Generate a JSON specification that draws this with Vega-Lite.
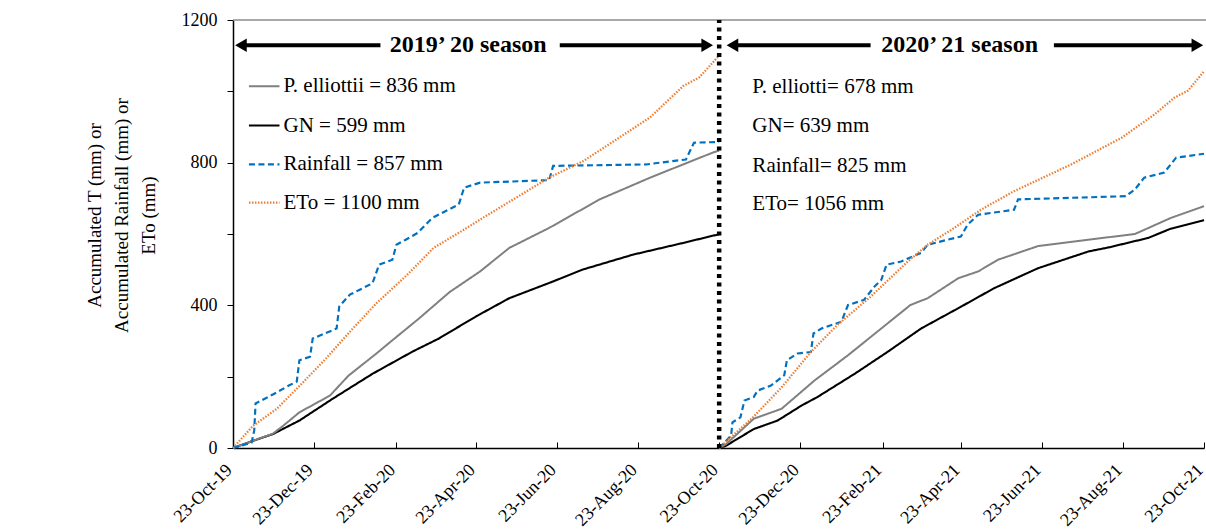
{
  "$schema": "https://vega.github.io/schema/vega-lite/v6.json",
  "width": 971,
  "height": 428,
  "autosize": {"type": "none"},
  "padding": {"left": 233, "top": 20, "right": 2, "bottom": 83},
  "background": "white",
  "config": {
    "view": {"stroke": null},
    "font": "Liberation Serif",
    "axis": {"labelFont": "Liberation Serif", "titleFont": "Liberation Serif", "labelColor": "black", "titleColor": "black", "domainColor": "black", "tickColor": "black", "grid": false}
  },
  "datasets": {
    "series": [
      {"s": "GN", "season": 1, "d": "2019-10-23", "v": 0},
      {"s": "GN", "season": 1, "d": "2019-11-07", "v": 20},
      {"s": "GN", "season": 1, "d": "2019-11-22", "v": 39},
      {"s": "GN", "season": 1, "d": "2019-12-12", "v": 77},
      {"s": "GN", "season": 1, "d": "2020-01-06", "v": 138},
      {"s": "GN", "season": 1, "d": "2020-02-05", "v": 208},
      {"s": "GN", "season": 1, "d": "2020-03-06", "v": 270},
      {"s": "GN", "season": 1, "d": "2020-03-26", "v": 307},
      {"s": "GN", "season": 1, "d": "2020-04-23", "v": 369},
      {"s": "GN", "season": 1, "d": "2020-05-18", "v": 420},
      {"s": "GN", "season": 1, "d": "2020-06-20", "v": 467},
      {"s": "GN", "season": 1, "d": "2020-07-12", "v": 500},
      {"s": "GN", "season": 1, "d": "2020-08-19", "v": 542},
      {"s": "GN", "season": 1, "d": "2020-09-26", "v": 575},
      {"s": "GN", "season": 1, "d": "2020-10-18", "v": 595},
      {"s": "GN", "season": 1, "d": "2020-10-23", "v": 599},

      {"s": "P. elliottii", "season": 1, "d": "2019-10-23", "v": 0},
      {"s": "P. elliottii", "season": 1, "d": "2019-11-07", "v": 20},
      {"s": "P. elliottii", "season": 1, "d": "2019-11-22", "v": 40},
      {"s": "P. elliottii", "season": 1, "d": "2019-11-30", "v": 63},
      {"s": "P. elliottii", "season": 1, "d": "2019-12-12", "v": 100},
      {"s": "P. elliottii", "season": 1, "d": "2020-01-04", "v": 147},
      {"s": "P. elliottii", "season": 1, "d": "2020-01-18", "v": 203},
      {"s": "P. elliottii", "season": 1, "d": "2020-02-08", "v": 265},
      {"s": "P. elliottii", "season": 1, "d": "2020-02-18", "v": 296},
      {"s": "P. elliottii", "season": 1, "d": "2020-03-11", "v": 363},
      {"s": "P. elliottii", "season": 1, "d": "2020-04-03", "v": 437},
      {"s": "P. elliottii", "season": 1, "d": "2020-04-26", "v": 495},
      {"s": "P. elliottii", "season": 1, "d": "2020-05-18", "v": 561},
      {"s": "P. elliottii", "season": 1, "d": "2020-06-17", "v": 617},
      {"s": "P. elliottii", "season": 1, "d": "2020-07-25", "v": 697},
      {"s": "P. elliottii", "season": 1, "d": "2020-09-01", "v": 758},
      {"s": "P. elliottii", "season": 1, "d": "2020-10-18", "v": 828},
      {"s": "P. elliottii", "season": 1, "d": "2020-10-23", "v": 834},

      {"s": "Rainfall", "season": 1, "d": "2019-10-23", "v": 0},
      {"s": "Rainfall", "season": 1, "d": "2019-11-06", "v": 15},
      {"s": "Rainfall", "season": 1, "d": "2019-11-08", "v": 50},
      {"s": "Rainfall", "season": 1, "d": "2019-11-09", "v": 125},
      {"s": "Rainfall", "season": 1, "d": "2019-11-22", "v": 150},
      {"s": "Rainfall", "season": 1, "d": "2019-12-04", "v": 175},
      {"s": "Rainfall", "season": 1, "d": "2019-12-10", "v": 186},
      {"s": "Rainfall", "season": 1, "d": "2019-12-12", "v": 246},
      {"s": "Rainfall", "season": 1, "d": "2019-12-20", "v": 256},
      {"s": "Rainfall", "season": 1, "d": "2019-12-22", "v": 307},
      {"s": "Rainfall", "season": 1, "d": "2020-01-09", "v": 335},
      {"s": "Rainfall", "season": 1, "d": "2020-01-11", "v": 397},
      {"s": "Rainfall", "season": 1, "d": "2020-01-19", "v": 430},
      {"s": "Rainfall", "season": 1, "d": "2020-01-26", "v": 443},
      {"s": "Rainfall", "season": 1, "d": "2020-02-05", "v": 462},
      {"s": "Rainfall", "season": 1, "d": "2020-02-10", "v": 514},
      {"s": "Rainfall", "season": 1, "d": "2020-02-20", "v": 528},
      {"s": "Rainfall", "season": 1, "d": "2020-02-23", "v": 570},
      {"s": "Rainfall", "season": 1, "d": "2020-03-01", "v": 584},
      {"s": "Rainfall", "season": 1, "d": "2020-03-10", "v": 603},
      {"s": "Rainfall", "season": 1, "d": "2020-03-21", "v": 645},
      {"s": "Rainfall", "season": 1, "d": "2020-04-10", "v": 683},
      {"s": "Rainfall", "season": 1, "d": "2020-04-14", "v": 730},
      {"s": "Rainfall", "season": 1, "d": "2020-04-26", "v": 744},
      {"s": "Rainfall", "season": 1, "d": "2020-06-17", "v": 751},
      {"s": "Rainfall", "season": 1, "d": "2020-06-20", "v": 791},
      {"s": "Rainfall", "season": 1, "d": "2020-08-29", "v": 795},
      {"s": "Rainfall", "season": 1, "d": "2020-09-28", "v": 809},
      {"s": "Rainfall", "season": 1, "d": "2020-10-04", "v": 856},
      {"s": "Rainfall", "season": 1, "d": "2020-10-23", "v": 858},

      {"s": "ETo", "season": 1, "d": "2019-10-23", "v": 0},
      {"s": "ETo", "season": 1, "d": "2019-11-07", "v": 62},
      {"s": "ETo", "season": 1, "d": "2019-11-25", "v": 110},
      {"s": "ETo", "season": 1, "d": "2019-12-15", "v": 185},
      {"s": "ETo", "season": 1, "d": "2020-01-01", "v": 251},
      {"s": "ETo", "season": 1, "d": "2020-01-19", "v": 326},
      {"s": "ETo", "season": 1, "d": "2020-02-08", "v": 406},
      {"s": "ETo", "season": 1, "d": "2020-03-02", "v": 485},
      {"s": "ETo", "season": 1, "d": "2020-03-22", "v": 561},
      {"s": "ETo", "season": 1, "d": "2020-04-16", "v": 617},
      {"s": "ETo", "season": 1, "d": "2020-04-28", "v": 645},
      {"s": "ETo", "season": 1, "d": "2020-06-17", "v": 758},
      {"s": "ETo", "season": 1, "d": "2020-07-13", "v": 805},
      {"s": "ETo", "season": 1, "d": "2020-09-01", "v": 927},
      {"s": "ETo", "season": 1, "d": "2020-09-26", "v": 1015},
      {"s": "ETo", "season": 1, "d": "2020-10-08", "v": 1039},
      {"s": "ETo", "season": 1, "d": "2020-10-18", "v": 1080},
      {"s": "ETo", "season": 1, "d": "2020-10-23", "v": 1100},

      {"s": "GN", "season": 2, "d": "2020-10-23", "v": 0},
      {"s": "GN", "season": 2, "d": "2020-10-28", "v": 6},
      {"s": "GN", "season": 2, "d": "2020-11-18", "v": 53},
      {"s": "GN", "season": 2, "d": "2020-12-06", "v": 77},
      {"s": "GN", "season": 2, "d": "2020-12-24", "v": 119},
      {"s": "GN", "season": 2, "d": "2021-01-05", "v": 143},
      {"s": "GN", "season": 2, "d": "2021-02-02", "v": 208},
      {"s": "GN", "season": 2, "d": "2021-02-27", "v": 270},
      {"s": "GN", "season": 2, "d": "2021-03-24", "v": 335},
      {"s": "GN", "season": 2, "d": "2021-04-23", "v": 396},
      {"s": "GN", "season": 2, "d": "2021-05-18", "v": 448},
      {"s": "GN", "season": 2, "d": "2021-06-20", "v": 504},
      {"s": "GN", "season": 2, "d": "2021-07-28", "v": 551},
      {"s": "GN", "season": 2, "d": "2021-08-13", "v": 563},
      {"s": "GN", "season": 2, "d": "2021-09-11", "v": 589},
      {"s": "GN", "season": 2, "d": "2021-09-28", "v": 615},
      {"s": "GN", "season": 2, "d": "2021-10-23", "v": 639},

      {"s": "P. elliottii", "season": 2, "d": "2020-10-23", "v": 0},
      {"s": "P. elliottii", "season": 2, "d": "2020-10-28", "v": 10},
      {"s": "P. elliottii", "season": 2, "d": "2020-11-18", "v": 82},
      {"s": "P. elliottii", "season": 2, "d": "2020-12-09", "v": 110},
      {"s": "P. elliottii", "season": 2, "d": "2021-01-03", "v": 190},
      {"s": "P. elliottii", "season": 2, "d": "2021-01-28", "v": 260},
      {"s": "P. elliottii", "season": 2, "d": "2021-02-22", "v": 335},
      {"s": "P. elliottii", "season": 2, "d": "2021-03-16", "v": 401},
      {"s": "P. elliottii", "season": 2, "d": "2021-03-29", "v": 420},
      {"s": "P. elliottii", "season": 2, "d": "2021-04-21", "v": 476},
      {"s": "P. elliottii", "season": 2, "d": "2021-05-06", "v": 495},
      {"s": "P. elliottii", "season": 2, "d": "2021-05-21", "v": 528},
      {"s": "P. elliottii", "season": 2, "d": "2021-06-20", "v": 566},
      {"s": "P. elliottii", "season": 2, "d": "2021-07-28", "v": 584},
      {"s": "P. elliottii", "season": 2, "d": "2021-09-01", "v": 600},
      {"s": "P. elliottii", "season": 2, "d": "2021-09-28", "v": 645},
      {"s": "P. elliottii", "season": 2, "d": "2021-10-23", "v": 678},

      {"s": "Rainfall", "season": 2, "d": "2020-10-23", "v": 0},
      {"s": "Rainfall", "season": 2, "d": "2020-11-01", "v": 35},
      {"s": "Rainfall", "season": 2, "d": "2020-11-02", "v": 72},
      {"s": "Rainfall", "season": 2, "d": "2020-11-08", "v": 86},
      {"s": "Rainfall", "season": 2, "d": "2020-11-11", "v": 133},
      {"s": "Rainfall", "season": 2, "d": "2020-11-18", "v": 143},
      {"s": "Rainfall", "season": 2, "d": "2020-11-21", "v": 161},
      {"s": "Rainfall", "season": 2, "d": "2020-12-01", "v": 175},
      {"s": "Rainfall", "season": 2, "d": "2020-12-11", "v": 204},
      {"s": "Rainfall", "season": 2, "d": "2020-12-13", "v": 246},
      {"s": "Rainfall", "season": 2, "d": "2020-12-21", "v": 265},
      {"s": "Rainfall", "season": 2, "d": "2020-12-31", "v": 269},
      {"s": "Rainfall", "season": 2, "d": "2021-01-02", "v": 321},
      {"s": "Rainfall", "season": 2, "d": "2021-01-08", "v": 335},
      {"s": "Rainfall", "season": 2, "d": "2021-01-23", "v": 354},
      {"s": "Rainfall", "season": 2, "d": "2021-01-28", "v": 401},
      {"s": "Rainfall", "season": 2, "d": "2021-02-09", "v": 415},
      {"s": "Rainfall", "season": 2, "d": "2021-02-17", "v": 453},
      {"s": "Rainfall", "season": 2, "d": "2021-02-22", "v": 471},
      {"s": "Rainfall", "season": 2, "d": "2021-02-26", "v": 514},
      {"s": "Rainfall", "season": 2, "d": "2021-03-09", "v": 523},
      {"s": "Rainfall", "season": 2, "d": "2021-03-24", "v": 547},
      {"s": "Rainfall", "season": 2, "d": "2021-03-29", "v": 570},
      {"s": "Rainfall", "season": 2, "d": "2021-04-13", "v": 584},
      {"s": "Rainfall", "season": 2, "d": "2021-04-23", "v": 593},
      {"s": "Rainfall", "season": 2, "d": "2021-04-28", "v": 626},
      {"s": "Rainfall", "season": 2, "d": "2021-05-06", "v": 654},
      {"s": "Rainfall", "season": 2, "d": "2021-06-02", "v": 668},
      {"s": "Rainfall", "season": 2, "d": "2021-06-05", "v": 697},
      {"s": "Rainfall", "season": 2, "d": "2021-08-25", "v": 706},
      {"s": "Rainfall", "season": 2, "d": "2021-09-01", "v": 725},
      {"s": "Rainfall", "season": 2, "d": "2021-09-08", "v": 758},
      {"s": "Rainfall", "season": 2, "d": "2021-09-23", "v": 772},
      {"s": "Rainfall", "season": 2, "d": "2021-10-02", "v": 814},
      {"s": "Rainfall", "season": 2, "d": "2021-10-23", "v": 825},

      {"s": "ETo", "season": 2, "d": "2020-10-23", "v": 0},
      {"s": "ETo", "season": 2, "d": "2020-11-18", "v": 88},
      {"s": "ETo", "season": 2, "d": "2020-12-09", "v": 170},
      {"s": "ETo", "season": 2, "d": "2020-12-31", "v": 269},
      {"s": "ETo", "season": 2, "d": "2021-01-20", "v": 345},
      {"s": "ETo", "season": 2, "d": "2021-02-14", "v": 424},
      {"s": "ETo", "season": 2, "d": "2021-03-14", "v": 523},
      {"s": "ETo", "season": 2, "d": "2021-03-29", "v": 570},
      {"s": "ETo", "season": 2, "d": "2021-04-18", "v": 617},
      {"s": "ETo", "season": 2, "d": "2021-05-08", "v": 668},
      {"s": "ETo", "season": 2, "d": "2021-06-02", "v": 720},
      {"s": "ETo", "season": 2, "d": "2021-07-15", "v": 795},
      {"s": "ETo", "season": 2, "d": "2021-08-22", "v": 870},
      {"s": "ETo", "season": 2, "d": "2021-09-16", "v": 936},
      {"s": "ETo", "season": 2, "d": "2021-10-01", "v": 983},
      {"s": "ETo", "season": 2, "d": "2021-10-11", "v": 1002},
      {"s": "ETo", "season": 2, "d": "2021-10-23", "v": 1056}
    ],
    "legend1": [
      {"s": "P. elliottii", "label": "P. elliottii = 836 mm", "v": 1014},
      {"s": "GN", "label": "GN = 599 mm", "v": 904},
      {"s": "Rainfall", "label": "Rainfall = 857 mm", "v": 795},
      {"s": "ETo", "label": "ETo = 1100 mm", "v": 688}
    ],
    "legend2": [
      {"label": "P. elliotti= 678 mm", "v": 1011},
      {"label": "GN= 639 mm", "v": 902},
      {"label": "Rainfall= 825 mm", "v": 790},
      {"label": "ETo= 1056 mm", "v": 683}
    ],
    "seasons": [
      {"label": "2019’ 20 season", "d": "2020-04-17"},
      {"label": "2020’ 21 season", "d": "2021-04-22"}
    ],
    "arrows": [
      {"a": "2019-10-29", "b": "2020-02-11"},
      {"a": "2020-06-25", "b": "2020-10-14"},
      {"a": "2020-11-02", "b": "2021-02-14"},
      {"a": "2021-07-02", "b": "2021-10-18"}
    ],
    "heads": [
      {"d": "2019-10-29", "dir": "left"},
      {"d": "2020-10-14", "dir": "right"},
      {"d": "2020-11-02", "dir": "left"},
      {"d": "2021-10-18", "dir": "right"}
    ],
    "divider": [
      {"d": "2020-10-23"}
    ]
  },
  "layer": [
    {
      "data": {"name": "series"},
      "mark": {"type": "line"},
      "encoding": {
        "x": {
          "field": "d", "type": "temporal",
          "scale": {"type": "utc", "domain": [{"year": 2019, "month": 10, "date": 23, "utc": true}, {"year": 2021, "month": 10, "date": 23, "utc": true}]},
          "axis": {
            "values": [
              {"year": 2019, "month": 10, "date": 23, "utc": true},
              {"year": 2019, "month": 12, "date": 23, "utc": true},
              {"year": 2020, "month": 2, "date": 23, "utc": true},
              {"year": 2020, "month": 4, "date": 23, "utc": true},
              {"year": 2020, "month": 6, "date": 23, "utc": true},
              {"year": 2020, "month": 8, "date": 23, "utc": true},
              {"year": 2020, "month": 10, "date": 23, "utc": true},
              {"year": 2020, "month": 12, "date": 23, "utc": true},
              {"year": 2021, "month": 2, "date": 23, "utc": true},
              {"year": 2021, "month": 4, "date": 23, "utc": true},
              {"year": 2021, "month": 6, "date": 23, "utc": true},
              {"year": 2021, "month": 8, "date": 23, "utc": true},
              {"year": 2021, "month": 10, "date": 23, "utc": true}
            ],
            "format": "%d-%b-%y",
            "labelAngle": -45,
            "labelAlign": "right",
            "labelBaseline": "middle",
            "labelFontSize": 18,
            "labelPadding": 25,
            "labelOffset": -4,
            "labelOverlap": false,
            "labelFlush": false,
            "labelBound": false,
            "tickSize": -6,
            "tickWidth": 1,
            "domainWidth": 1.5,
            "title": null
          }
        },
        "y": {
          "field": "v", "type": "quantitative",
          "scale": {"domain": [0, 1200], "nice": false, "zero": true},
          "axis": {
            "values": [0, 200, 400, 600, 800, 1000, 1200],
            "format": "d",
            "labelExpr": "datum.value % 400 === 0 ? datum.label : ''",
            "labelFontSize": 18,
            "labelPadding": 10,
            "tickSize": 6,
            "tickWidth": 1,
            "domainWidth": 1.5,
            "title": ["Accumulated T (mm) or", "Accumulated Rainfall (mm) or", "ETo (mm)"],
            "titleFontSize": 19,
            "titleFontWeight": "normal",
            "titleAngle": -90,
            "titleAlign": "center",
            "titleBaseline": "top",
            "titleLineHeight": 27,
            "titleX": -148,
            "titleY": 195
          }
        },
        "color": {"field": "s", "type": "nominal", "scale": {"domain": ["P. elliottii", "GN", "Rainfall", "ETo"], "range": ["#808080", "#000000", "#0070C0", "#ED7D31"]}, "legend": null},
        "strokeDash": {"field": "s", "type": "nominal", "scale": {"domain": ["P. elliottii", "GN", "Rainfall", "ETo"], "range": [[1, 0], [1, 0], [6, 3.5], [1.5, 1.5]]}, "legend": null},
        "strokeWidth": {"field": "s", "type": "nominal", "scale": {"domain": ["P. elliottii", "GN", "Rainfall", "ETo"], "range": [2, 2.25, 2, 1.5]}, "legend": null},
        "detail": {"field": "season", "type": "nominal"}
      }
    },
    {
      "data": {"name": "divider"},
      "mark": {"type": "rule", "color": "#8c8c8c", "strokeWidth": 1.5},
      "encoding": {
        "x": {"datum": {"year": 2019, "month": 10, "date": 23, "utc": true}, "type": "temporal"},
        "x2": {"datum": {"year": 2021, "month": 11, "date": 1, "utc": true}},
        "y": {"datum": 1200}
      }
    },
    {
      "data": {"name": "divider"},
      "mark": {"type": "rule", "color": "black", "strokeWidth": 4.5, "strokeDash": [4, 4.5]},
      "encoding": {
        "x": {"field": "d", "type": "temporal"},
        "y": {"datum": 0},
        "y2": {"datum": 1200}
      }
    },
    {
      "data": {"name": "legend1"},
      "mark": {"type": "rule"},
      "encoding": {
        "x": {"datum": {"year": 2019, "month": 11, "date": 4, "utc": true}, "type": "temporal"},
        "x2": {"datum": {"year": 2019, "month": 11, "date": 27, "utc": true}},
        "y": {"field": "v", "type": "quantitative"},
        "color": {"field": "s", "type": "nominal", "legend": null},
        "strokeDash": {"field": "s", "type": "nominal", "legend": null},
        "strokeWidth": {"field": "s", "type": "nominal", "legend": null}
      }
    },
    {
      "data": {"name": "legend1"},
      "mark": {"type": "text", "align": "left", "baseline": "middle", "fontSize": 21, "font": "Liberation Serif", "color": "black"},
      "encoding": {
        "x": {"datum": {"year": 2019, "month": 11, "date": 30, "utc": true}, "type": "temporal"},
        "y": {"field": "v", "type": "quantitative"},
        "text": {"field": "label"}
      }
    },
    {
      "data": {"name": "legend2"},
      "mark": {"type": "text", "align": "left", "baseline": "middle", "fontSize": 21, "font": "Liberation Serif", "color": "black"},
      "encoding": {
        "x": {"datum": {"year": 2020, "month": 11, "date": 17, "utc": true}, "type": "temporal"},
        "y": {"field": "v", "type": "quantitative"},
        "text": {"field": "label"}
      }
    },
    {
      "data": {"name": "arrows"},
      "mark": {"type": "rule", "color": "black", "strokeWidth": 4},
      "encoding": {
        "x": {"field": "a", "type": "temporal"},
        "x2": {"field": "b"},
        "y": {"datum": 1129}
      }
    },
    {
      "data": {"name": "heads"},
      "mark": {"type": "point", "filled": true, "color": "black", "opacity": 1, "size": 180},
      "encoding": {
        "x": {"field": "d", "type": "temporal"},
        "y": {"datum": 1129},
        "shape": {"field": "dir", "type": "nominal", "scale": {"domain": ["left", "right"], "range": ["triangle-left", "triangle-right"]}, "legend": null}
      }
    },
    {
      "data": {"name": "seasons"},
      "mark": {"type": "text", "align": "center", "baseline": "middle", "fontSize": 24, "fontWeight": "bold", "font": "Liberation Serif", "color": "black"},
      "encoding": {
        "x": {"field": "d", "type": "temporal"},
        "y": {"datum": 1129},
        "text": {"field": "label"}
      }
    }
  ]
}
